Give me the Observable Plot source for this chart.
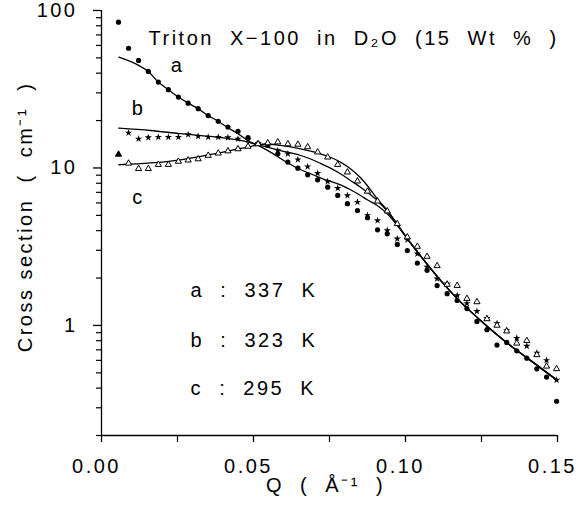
<!DOCTYPE html>
<html><head><meta charset="utf-8">
<script src="https://cdn.jsdelivr.net/npm/d3@7"></script>
<script src="https://cdn.jsdelivr.net/npm/@observablehq/plot@0.6"></script>
<style>body{margin:0;background:#fff;}</style>
</head><body><div id="chart"></div>
<script>
// Measured points: Q (1/Å) and cross section (1/cm)
const qPoints = [0.0056,0.0089,0.0122,0.0154,0.0187,0.0220,0.0253,0.0285,0.0318,0.0351,0.0384,0.0416,0.0449,0.0482,0.0515,0.0547,0.0580,0.0613,0.0646,0.0678,0.0711,0.0744,0.0777,0.0809,0.0842,0.0875,0.0908,0.0940,0.0973,0.1006,0.1039,0.1071,0.1104,0.1137,0.1170,0.1202,0.1235,0.1268,0.1301,0.1333,0.1366,0.1399,0.1432,0.1464,0.1497];
const sectionA = [84.3,57.6,48.2,41.0,35.1,31.4,28.2,25.8,23.8,21.5,19.8,18.2,17.1,15.6,14.3,14.0,12.3,10.9,9.97,9.05,8.41,7.55,6.69,5.93,5.37,4.83,4.05,3.82,3.27,2.99,2.49,2.24,1.79,1.59,1.44,1.28,1.06,0.94,0.75,0.78,0.69,0.62,0.53,0.47,0.33];
const sectionB = [null,16.7,15.3,15.6,15.7,15.7,15.7,16.3,15.9,15.7,15.7,15.6,15.3,15.1,14.3,14.0,12.9,12.3,11.3,10.2,9.25,8.21,7.44,6.69,6.07,5.0,4.64,4.01,3.55,3.5,2.85,2.35,1.98,1.84,1.55,1.38,1.23,1.11,1.03,0.93,0.83,0.74,0.67,0.60,0.45];
const sectionC = [12.2,10.7,9.89,9.89,10.5,10.5,11.0,11.2,11.4,12.0,12.4,12.8,13.2,13.7,14.2,14.4,14.6,14.2,14.1,13.6,12.6,11.7,10.5,9.4,8.24,7.1,6.15,5.32,4.42,3.64,3.17,2.74,2.39,1.82,1.79,1.48,1.41,1.10,1.0,0.92,0.77,0.80,0.65,0.55,0.53];

// Fitted curves
const qFitA = [0.0057,0.0122,0.0154,0.0187,0.0220,0.0253,0.0285,0.0318,0.0351,0.0384,0.0416,0.0449,0.0482,0.0515,0.0556,0.0605,0.0655,0.0688,0.0720,0.0753,0.0786,0.0819,0.0852,0.0874,0.0907,0.0940,0.1016,0.1104,0.1170,0.1247,0.1345,0.1411,0.1499];
const fitA = [50.5,44.8,41.0,35.1,31.4,28.2,25.8,23.8,21.5,19.8,18.0,16.5,14.9,13.9,12.6,11.0,9.74,9.19,8.66,8.21,7.82,7.27,6.69,6.28,5.78,5.12,3.35,2.05,1.48,1.076,0.746,0.600,0.448];
const qFitB = [0.0057,0.0161,0.0260,0.0359,0.0457,0.0523,0.0589,0.0655,0.0688,0.0720,0.0753,0.0786,0.0819,0.0852,0.0874,0.0907,0.0940,0.1016,0.1104,0.1170,0.1247,0.1345,0.1411,0.1499];
const fitB = [17.9,17.3,16.5,15.85,14.95,13.9,12.9,12.0,11.4,10.7,9.97,9.19,8.33,7.55,7.02,6.22,5.32,3.35,2.05,1.48,1.076,0.746,0.600,0.448];
const qFitC = [0.0057,0.0161,0.0260,0.0359,0.0480,0.0539,0.0589,0.0655,0.0688,0.0720,0.0753,0.0786,0.0819,0.0852,0.0874,0.0907,0.0940,0.1016,0.1104,0.1170,0.1247,0.1345,0.1411,0.1499];
const fitC = [10.48,10.76,11.27,12.18,13.55,14.2,13.9,13.24,12.8,12.3,11.7,10.9,9.89,8.66,7.74,6.37,5.37,3.35,2.05,1.48,1.076,0.746,0.600,0.448];

// Ticks and texts
const xTicks = [0, 0.05, 0.10, 0.15];
const xTickLabels = ["0.00", "0.05", "0.10", "0.15"];
const xMinorTicks = [0.025, 0.075, 0.125];
const yTicks = [1, 10, 100];
const yTickLabels = ["1", "10", "100"];
const yMinorTicks = [0.2,0.3,0.4,0.5,0.6,0.7,0.8,0.9,2,3,4,5,6,7,8,9,20,30,40,50,60,70,80,90];
const curveNames = ["a", "b", "c"];
const temperatures = ["337", "323", "295"];
const titleText = "Triton\u00a0\u00a0X\u2212100\u00a0\u00a0in\u00a0\u00a0D\u2082O\u00a0\u00a0(15\u00a0\u00a0Wt\u00a0\u00a0%\u00a0\u00a0)";
const xLabel = "Q\u00a0\u00a0(\u00a0\u00a0\u00c5\u207b\u00b9\u00a0\u00a0)";
const yLabel = "Cross\u00a0section\u00a0\u00a0(\u00a0\u00a0cm\u207b\u00b9\u00a0\u00a0)";

const sp = "\u00a0\u00a0";
const legendLines = curveNames.map((n, i) => n + sp + ":" + sp + temperatures[i] + sp + "K");

const FS = 20;
const noLabel = () => "";
const plot = Plot.plot({
  width: 576, height: 508,
  marginLeft: 101, marginRight: 19, marginTop: 10, marginBottom: 73,
  x: {domain: [0, 0.15]},
  y: {type: "log", domain: [0.2, 100]},
  style: {fontFamily: "'Liberation Sans', Arial, sans-serif", fontSize: FS + "px", letterSpacing: "2.5px", background: "white", color: "black", overflow: "visible"},
  marks: [
    Plot.ruleX([0], {strokeWidth: 1.3}),
    Plot.ruleY([0.2], {strokeWidth: 1.3}),
    Plot.axisX(xTicks, {tickSize: 7, strokeWidth: 1.3, tickFormat: noLabel, label: null}),
    Plot.axisX(xMinorTicks, {tickSize: 7, strokeWidth: 1.2, tickFormat: noLabel, label: null}),
    Plot.axisY(yTicks, {tickSize: 8, strokeWidth: 1.3, tickFormat: noLabel, label: null}),
    Plot.axisY(yMinorTicks, {tickSize: 5, strokeWidth: 1.2, tickFormat: noLabel, label: null}),
    // tick labels
    Plot.text(xTicks, {x: d => d, text: (d, i) => xTickLabels[i], frameAnchor: "bottom", lineAnchor: "top", textAnchor: "middle", dy: 23, dx: -5, fontSize: FS}),
    Plot.text(yTicks, {y: d => d, text: (d, i) => yTickLabels[i], frameAnchor: "left", textAnchor: "end", dx: -24, fontSize: FS}),
    // fitted curves
    Plot.line(qFitA, {x: d => d, y: (d, i) => fitA[i], curve: "monotone-x", strokeWidth: 1.3}),
    Plot.line(qFitB, {x: d => d, y: (d, i) => fitB[i], curve: "monotone-x", strokeWidth: 1.3}),
    Plot.line(qFitC, {x: d => d, y: (d, i) => fitC[i], curve: "monotone-x", strokeWidth: 1.3}),
    // data
    Plot.dot(qPoints, {x: d => d, y: (d, i) => sectionA[i], r: 2.6, fill: "black", stroke: "none"}),
    Plot.dot(qPoints, {x: d => d, y: (d, i) => sectionB[i], symbol: "star", r: 2.3, fill: "black", stroke: "none"}),
    Plot.dot(qPoints, {x: d => d, y: (d, i) => sectionC[i], symbol: "triangle", r: 2.3, fill: (d, i) => i === 0 ? "black" : "white", stroke: "black", strokeWidth: 1}),
    // curve labels
    Plot.text([curveNames[0]], {x: 0.025, y: 44.8, fontSize: FS}),
    Plot.text([curveNames[1]], {x: 0.0122, y: 23.9, fontSize: FS}),
    Plot.text([curveNames[2]], {x: 0.0122, y: 6.5, fontSize: FS}),
    // legend lines
    Plot.text([legendLines[0]], {x: 0.0293, y: 1.67, textAnchor: "start", fontSize: FS}),
    Plot.text([legendLines[1]], {x: 0.0293, y: 0.803, textAnchor: "start", fontSize: FS}),
    Plot.text([legendLines[2]], {x: 0.0293, y: 0.398, textAnchor: "start", fontSize: FS}),
    // title
    Plot.text([titleText], {frameAnchor: "top-left", dx: 47, dy: 20, textAnchor: "start", fontSize: FS, letterSpacing: "1.8px"}),
    // axis labels
    Plot.text([xLabel], {frameAnchor: "bottom", dy: 56, dx: -4, textAnchor: "middle", fontSize: FS}),
    Plot.text([yLabel], {frameAnchor: "left", dx: -76, dy: -6, rotate: -90, textAnchor: "middle", fontSize: FS})
  ]
});
document.getElementById("chart").appendChild(plot);
</script>
</body></html>
